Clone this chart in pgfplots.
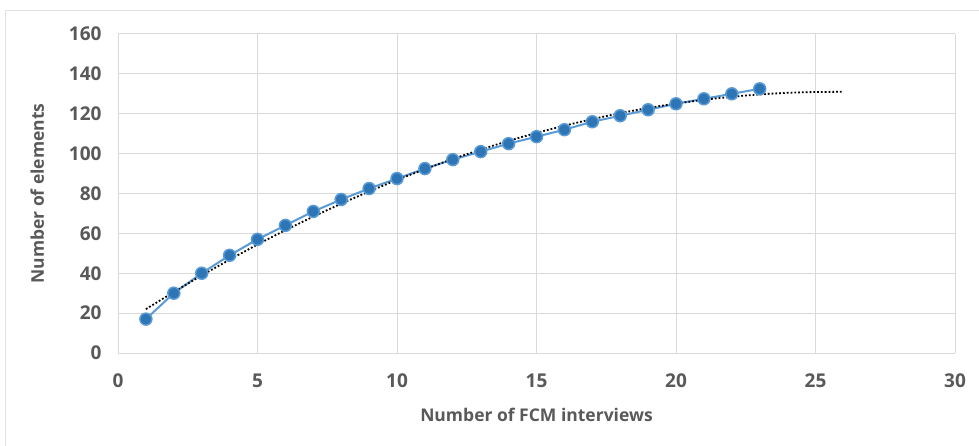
\documentclass[border=0pt]{standalone}
\usepackage{fontspec}
\setmainfont{Open Sans}[BoldFont={Open Sans Bold}]
\usepackage{pgfplots}
\pgfplotsset{compat=1.18}
\definecolor{txtgray}{HTML}{595959}
\definecolor{gridgray}{HTML}{D9D9D9}
\definecolor{lineblue}{HTML}{5B9BD5}
\definecolor{markblue}{HTML}{2E75B6}
\begin{document}
\begin{tikzpicture}[x=1pt,y=1pt]
% canvas and chart frame
\path[use as bounding box] (0,0) rectangle (979,445);
\draw[gridgray!80, line width=1pt] (5,-2) -- (5,434) -- (982,434);
\begin{axis}[
  at={(118pt,92pt)}, anchor=south west,
  scale only axis, width=837pt, height=319pt,
  xmin=0, xmax=30, ymin=0, ymax=160,
  xtick={0,5,...,30}, ytick={0,20,...,160},
  grid=major,
  major grid style={gridgray, line width=1pt},
  axis line style={gridgray, line width=1pt},
  axis lines*=left,
  tick style={draw=none},
  ticklabel style={font=\fontsize{19}{21}\selectfont\bfseries, text=txtgray},
  /pgf/number format/assume math mode=true,
  xticklabel style={yshift=-17pt},
  yticklabel style={xshift=-13pt},
  xlabel={Number of FCM interviews},
  ylabel={Number of elements},
  label style={font=\fontsize{17.5}{20}\selectfont\bfseries, text=txtgray},
  xlabel style={yshift=-14pt},
  ylabel style={yshift=18pt},
  clip=false,
]
% observed counts
\addplot[lineblue, line width=2pt, mark=*, mark size=6pt,
  mark options={fill=markblue, draw=lineblue, line width=1.5pt}]
coordinates {
(1,17) (2,30) (3,40) (4,49) (5,57) (6,64) (7,71) (8,77) (9,82.5)
(10,87.5) (11,92.5) (12,97) (13,101) (14,105) (15,108.5) (16,112)
(17,116) (18,119) (19,122) (20,125) (21,127.5) (22,130) (23,132.5)
};
% polynomial trend line
\addplot[black, line width=1.8pt, dotted, smooth] coordinates {
(1,22.0) (2,30.6) (3,38.9) (4,46.8) (5,54.4) (6,61.6) (7,68.4) (8,74.9)
(9,81.0) (10,86.8) (11,92.2) (12,97.3) (13,102.0) (14,106.4) (15,110.4)
(16,114.0) (17,117.3) (18,120.3) (19,122.9) (20,125.1) (21,127.0)
(22,128.5) (23,129.7) (24,130.5) (25,130.9) (26,131.0)
};
\end{axis}
\end{tikzpicture}
\end{document}
